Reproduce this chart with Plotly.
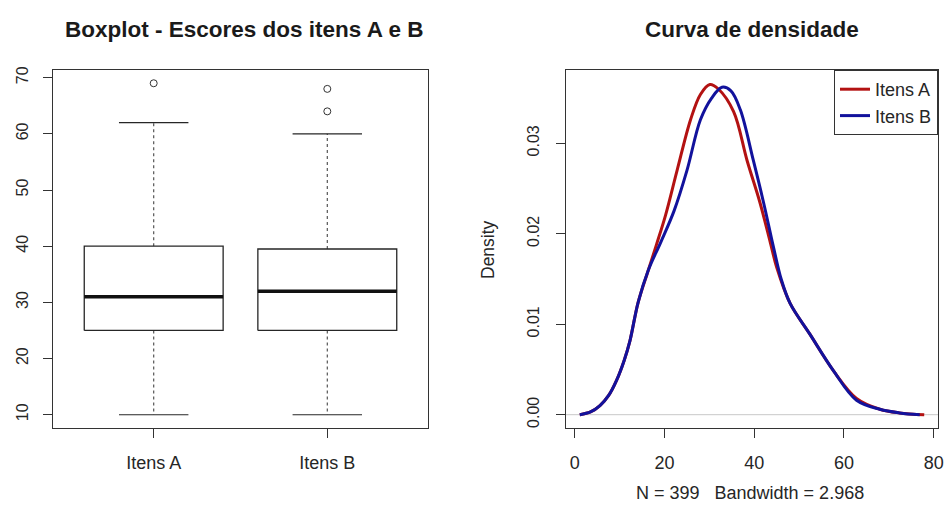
import plotly.graph_objects as go

# ---------------- data ----------------
categories = ["Itens A", "Itens B"]
cat_pos = [1, 2]
q1 = [25, 25]
median = [31, 32]
q3 = [40, 39.5]
lower_whisker = [10, 10]
upper_whisker = [62, 60]
outliers_a = [69]
outliers_b = [64, 68]

dens_a_x = [1.1, 3.5, 5.6, 7.5, 9.3, 11.0, 12.3, 14.1, 16.4, 18.2, 20.2, 22.8, 25.8, 28.0, 30.1,
            32.0, 35.4, 38.4, 41.3, 43.6, 45.0, 48.0, 52.4, 57.6, 62.8, 68.0, 72.4, 77.9]
dens_a_y = [0.0000, 0.0003, 0.0010, 0.0021, 0.0038, 0.0060, 0.0082, 0.0124, 0.0160, 0.0188, 0.0220, 0.0270, 0.0326, 0.0354, 0.0365,
            0.0360, 0.0335, 0.0281, 0.0234, 0.0190, 0.0163, 0.0123, 0.0089, 0.0049, 0.0018, 0.0006, 0.0002, 0.0000]

dens_b_x = [1.1, 3.5, 5.6, 7.5, 9.3, 11.0, 12.3, 14.1, 16.4, 19.1, 22.1, 25.0, 28.0, 30.5, 32.8,
            34.8, 36.9, 39.8, 42.1, 44.3, 46.0, 48.0, 52.4, 57.6, 62.8, 68.0, 72.4, 76.9]
dens_b_y = [0.0000, 0.0003, 0.0010, 0.0021, 0.0038, 0.0060, 0.0082, 0.0124, 0.0160, 0.0190, 0.0225, 0.0270, 0.0326, 0.0350, 0.0362,
            0.0358, 0.0337, 0.0281, 0.0234, 0.0185, 0.0150, 0.0123, 0.0089, 0.0049, 0.0016, 0.0006, 0.0002, 0.0000]

series_names = ["Itens A", "Itens B"]
box_ticks = [10, 20, 30, 40, 50, 60, 70]
dens_xticks = [0, 20, 40, 60, 80]
dens_yticks = [0.00, 0.01, 0.02, 0.03]
subtitle = "N = 399   Bandwidth = 2.968"

# ---------------- style ----------------
FONT = "Liberation Sans, Arial, sans-serif"
INK = "#262626"
RED = "#b31212"
BLUE = "#12129c"
W, H = 944, 515
BOXW = 0.8


def px(xref):
    return xref / W


def py(yref):
    return (H - yref) / H


fig = go.Figure()

# ---- boxplots (left panel) ----
outliers = [outliers_a, outliers_b]
for i, p in enumerate(cat_pos):
    h = BOXW / 2
    fig.add_trace(go.Scatter(x=[p, p], y=[q3[i], upper_whisker[i]], mode="lines",
                             line=dict(color="#555555", width=1.2, dash="3px,3px"),
                             showlegend=False, hoverinfo="skip", xaxis="x", yaxis="y"))
    fig.add_trace(go.Scatter(x=[p, p], y=[q1[i], lower_whisker[i]], mode="lines",
                             line=dict(color="#555555", width=1.2, dash="3px,3px"),
                             showlegend=False, hoverinfo="skip", xaxis="x", yaxis="y"))
    for v in (upper_whisker[i], lower_whisker[i]):
        fig.add_trace(go.Scatter(x=[p - h / 2, p + h / 2], y=[v, v], mode="lines",
                                 line=dict(color=INK, width=1.2),
                                 showlegend=False, hoverinfo="skip", xaxis="x", yaxis="y"))
    fig.add_trace(go.Scatter(x=[p - h, p + h, p + h, p - h, p - h],
                             y=[q1[i], q1[i], q3[i], q3[i], q1[i]], mode="lines",
                             line=dict(color=INK, width=1.3), fill="toself", fillcolor="white",
                             showlegend=False, hoverinfo="skip", xaxis="x", yaxis="y"))
    fig.add_trace(go.Scatter(x=[p - h, p + h], y=[median[i], median[i]], mode="lines",
                             line=dict(color="#111111", width=3.5),
                             showlegend=False, hoverinfo="skip", xaxis="x", yaxis="y"))
    fig.add_trace(go.Scatter(x=[p] * len(outliers[i]), y=outliers[i], mode="markers",
                             marker=dict(symbol="circle-open", size=7, color="#333333", line=dict(width=1)),
                             showlegend=False, hoverinfo="skip", xaxis="x", yaxis="y"))

# ---- density (right panel) ----
fig.add_trace(go.Scatter(x=[-10, 100], y=[0, 0], mode="lines", line=dict(color="#c8c8c8", width=1),
                         showlegend=False, hoverinfo="skip", xaxis="x2", yaxis="y2"))
fig.add_trace(go.Scatter(x=dens_a_x, y=dens_a_y, mode="lines", name=series_names[0],
                         line=dict(color=RED, width=3, shape="spline", smoothing=1.0),
                         xaxis="x2", yaxis="y2"))
fig.add_trace(go.Scatter(x=dens_b_x, y=dens_b_y, mode="lines", name=series_names[1],
                         line=dict(color=BLUE, width=3, shape="spline", smoothing=1.0),
                         xaxis="x2", yaxis="y2"))

# ---- layout ----
axis_common = dict(showline=True, mirror=True, linecolor="#333333", linewidth=1,
                   ticks="outside", ticklen=9, tickcolor="#333333", tickwidth=1,
                   showgrid=False, zeroline=False, automargin=False)

fig.update_layout(
    width=W, height=H,
    margin=dict(l=0, r=0, t=0, b=0, autoexpand=False),
    paper_bgcolor="white", plot_bgcolor="white",
    font=dict(family=FONT, size=17, color=INK),
    xaxis=dict(domain=[px(53), px(428)], range=[0.42, 2.58], tickvals=cat_pos, ticktext=categories,
               tickfont=dict(size=18), ticklabelstandoff=9, anchor="y", **axis_common),
    yaxis=dict(domain=[py(428), py(70)], range=[7.64, 71.36], tickvals=box_ticks, tickangle=-90,
               tickfont=dict(size=16), ticklabelstandoff=9, anchor="x", **axis_common),
    xaxis2=dict(domain=[px(566), px(938)], range=[-1.97, 80.97], tickvals=dens_xticks,
                tickfont=dict(size=18), ticklabelstandoff=9, anchor="y2", **axis_common),
    yaxis2=dict(domain=[py(428), py(70)], range=[-0.00147, 0.0381], tickvals=dens_yticks, tickformat=".2f",
                tickangle=-90, tickfont=dict(size=16), ticklabelstandoff=11, anchor="x2", **axis_common),
    legend=dict(x=px(938), y=py(70), xanchor="right", yanchor="top", bordercolor="#333333", borderwidth=1,
                bgcolor="white", font=dict(size=18), tracegroupgap=0, itemwidth=30),
    showlegend=True,
)

fig.add_annotation(text="<b>Boxplot - Escores dos itens A e B</b>", x=px(243.5), y=py(30),
                   xref="paper", yref="paper", xanchor="center", yanchor="middle", showarrow=False,
                   font=dict(size=22.5, color="#1a1a1a"))
fig.add_annotation(text="<b>Curva de densidade</b>", x=px(751.5), y=py(30),
                   xref="paper", yref="paper", xanchor="center", yanchor="middle", showarrow=False,
                   font=dict(size=22.5, color="#1a1a1a"))
fig.add_annotation(text=subtitle, x=px(750), y=py(493), xref="paper", yref="paper",
                   xanchor="center", yanchor="middle", showarrow=False, font=dict(size=18))
fig.add_annotation(text="Density", x=px(488), y=py(249), xref="paper", yref="paper",
                   xanchor="center", yanchor="middle", showarrow=False, textangle=-90, font=dict(size=17.5))

# remove the browser's default page margin so the 944x515 figure fills the window exactly
fig.write_html("out.html", config={"displayModeBar": False},
               post_script="document.body.style.margin='0';document.body.style.overflow='hidden';")
